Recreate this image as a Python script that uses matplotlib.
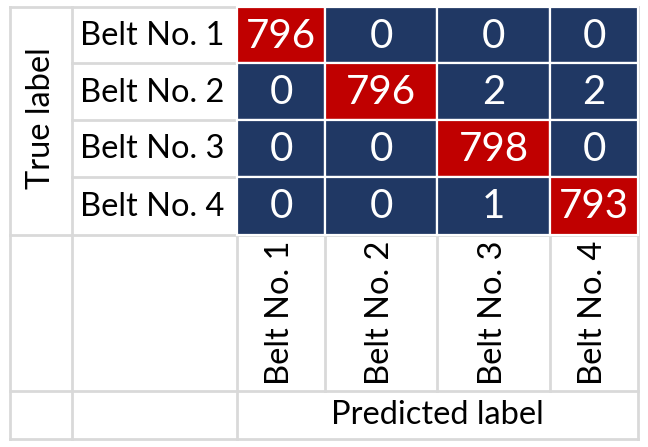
import matplotlib
matplotlib.use("Agg")
import matplotlib.pyplot as plt
from matplotlib.patches import Rectangle

# ------------------------- data -------------------------
classes = ["Belt No. 1", "Belt No. 2", "Belt No. 3", "Belt No. 4"]
counts = [
    [796, 0, 0, 0],
    [0, 796, 2, 2],
    [0, 0, 798, 0],
    [0, 0, 1, 793],
]
y_title = "True label"
x_title = "Predicted label"

# ------------------------- layout (pixels) -------------------------
W, H = 648, 447
col_edges = [10, 72, 237, 325, 437, 550, 638]
row_edges = [7, 63, 120, 177, 235, 391, 439]
grid_color = "#d9d9d9"
navy = "#203864"
red = "#c00000"
font = "Lato"

plt.rcParams["font.family"] = [font, "DejaVu Sans"]

fig = plt.figure(figsize=(W / 100, H / 100), dpi=100)
ax = fig.add_axes([0, 0, 1, 1])
ax.set_xlim(0, W)
ax.set_ylim(H, 0)
ax.axis("off")


def hline(y, x0, x1):
    ax.plot([x0, x1], [y, y], color=grid_color, lw=2.0, solid_capstyle="projecting", zorder=1)


def vline(x, y0, y1):
    ax.plot([x, x], [y0, y1], color=grid_color, lw=2.0, solid_capstyle="projecting", zorder=1)


# table grid (merged cells: "True label" spans the matrix rows,
# "Predicted label" spans the matrix columns)
for y in (row_edges[0], row_edges[4], row_edges[5], row_edges[6]):
    hline(y, col_edges[0], col_edges[-1])
for y in row_edges[1:4]:
    hline(y, col_edges[1], col_edges[-1])
for x in (col_edges[0], col_edges[1], col_edges[2], col_edges[-1]):
    vline(x, row_edges[0], row_edges[-1])
for x in col_edges[3:-1]:
    vline(x, row_edges[0], row_edges[5])

# matrix cells
n = len(classes)
for i in range(n):
    for j in range(n):
        x0, x1 = col_edges[2 + j], col_edges[3 + j]
        y0, y1 = row_edges[i], row_edges[i + 1]
        c = red if i == j else navy
        ax.add_patch(Rectangle((x0, y0), x1 - x0, y1 - y0, facecolor=c,
                               edgecolor="white", lw=1.6, zorder=2))
        ax.text((x0 + x1) / 2, (y0 + y1) / 2 + 1, str(counts[i][j]),
                color="white", fontsize=29, ha="center", va="center", zorder=3)

# row labels
for i, name in enumerate(classes):
    ax.text(col_edges[1] + 8, (row_edges[i] + row_edges[i + 1]) / 2 + 1, name,
            fontsize=23.5, ha="left", va="center")

# column labels (rotated)
for j, name in enumerate(classes):
    ax.text((col_edges[2 + j] + col_edges[3 + j]) / 2 - 1, (row_edges[4] + row_edges[5]) / 2,
            name, fontsize=23.5, rotation=90, ha="center", va="center")

ax.text((col_edges[0] + col_edges[1]) / 2, (row_edges[0] + row_edges[4]) / 2 - 3, y_title,
        fontsize=23.5, rotation=90, ha="center", va="center")
ax.text((col_edges[2] + col_edges[-1]) / 2, (row_edges[5] + row_edges[6]) / 2, x_title,
        fontsize=23.5, ha="center", va="center")

fig.savefig("out.png", dpi=100)
